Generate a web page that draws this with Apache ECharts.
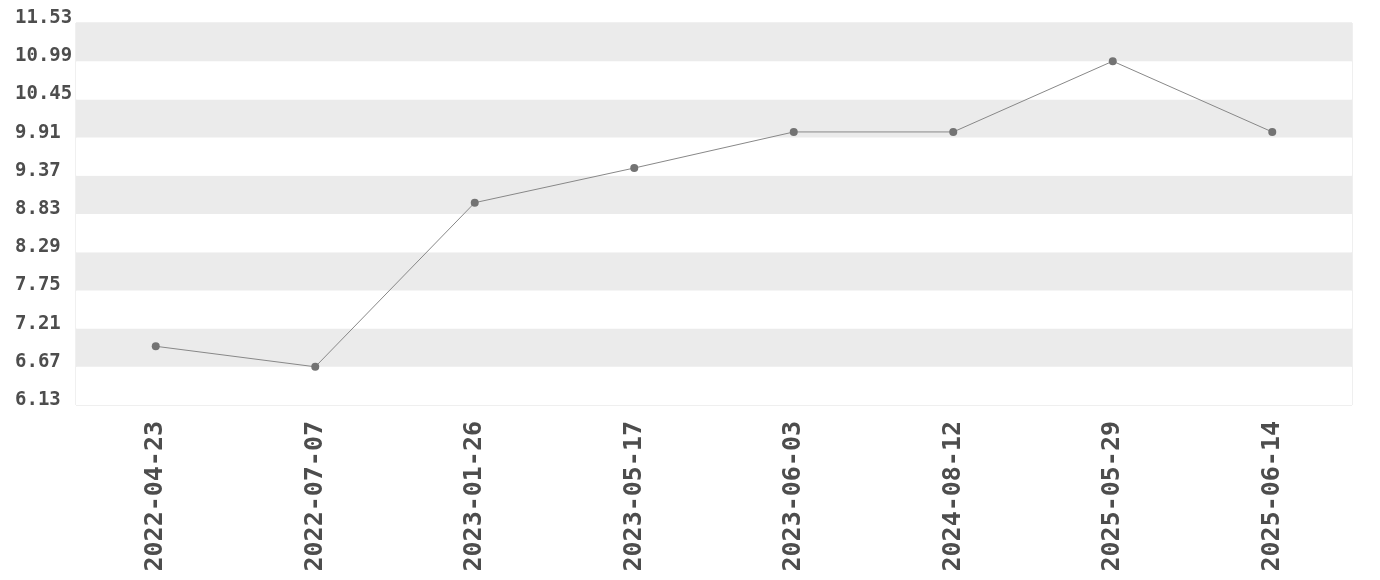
<!DOCTYPE html>
<html><head><meta charset="utf-8">
<script src="https://cdn.jsdelivr.net/npm/echarts@6/dist/echarts.min.js"></script>
<style>html,body{margin:0;padding:0;background:#fff}#c{width:1380px;height:580px}</style>
</head><body><div id="c"></div>
<script>
const categories = ['2022-04-23','2022-07-07','2023-01-26','2023-05-17','2023-06-03','2024-08-12','2025-05-29','2025-06-14'];
const values = [6.96, 6.67, 8.99, 9.48, 9.99, 9.99, 10.99, 9.99];
const axisBase = 6.13;
const axisStep = 0.54;
const axisSteps = 10;

const chart = echarts.init(document.getElementById('c'));
chart.setOption({
  animation: false,
  grid: {left: 76, right: 28, top: 23, bottom: 175, show: true, borderColor: '#e0e0e0', borderWidth: 1, backgroundColor: 'transparent'},
  xAxis: {
    type: 'category', data: categories, boundaryGap: true,
    axisLine: {show: false}, axisTick: {show: false}, splitLine: {show: false},
    axisLabel: {rotate: 90, margin: 16, color: '#4d4d4d', fontFamily: 'DejaVu Sans Mono', fontWeight: 'bold', fontSize: 25, interval: 0}
  },
  yAxis: {
    type: 'value', min: 0, max: axisStep * axisSteps, interval: axisStep,
    axisLine: {show: false}, axisTick: {show: false}, splitLine: {show: false},
    splitArea: {show: true, areaStyle: {color: ['#ffffff', '#ebebeb']}},
    axisLabel: {
      color: '#4d4d4d', fontFamily: 'DejaVu Sans Mono', fontWeight: 'bold', fontSize: 19,
      align: 'left', margin: 61, verticalAlign: 'bottom', lineHeight: 10,
      formatter: v => (v + axisBase).toFixed(2)
    }
  },
  series: [{
    type: 'line', data: values.map(v => +(v - axisBase).toFixed(4)),
    symbol: 'circle', symbolSize: 8,
    itemStyle: {color: '#737373'},
    lineStyle: {color: '#888', width: 1}
  }]
});
</script></body></html>
